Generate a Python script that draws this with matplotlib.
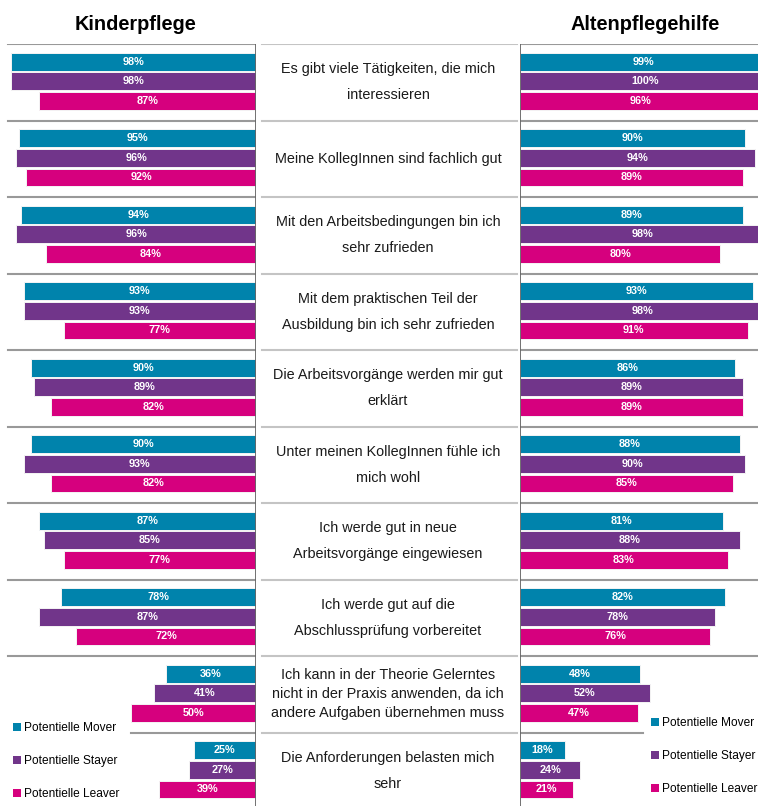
import matplotlib.pyplot as plt
import numpy as np
from matplotlib.patches import Patch

plt.rcParams['font.family'] = ['Liberation Sans', 'DejaVu Sans']

# 데이터
series = ['Potentielle Mover', 'Potentielle Stayer', 'Potentielle Leaver']
colors = ['#0083AC', '#71358A', '#D6007E']

items = [
    ['Es gibt viele Tätigkeiten, die mich', 'interessieren'],
    ['Meine KollegInnen sind fachlich gut'],
    ['Mit den Arbeitsbedingungen bin ich', 'sehr zufrieden'],
    ['Mit dem praktischen Teil der', 'Ausbildung bin ich sehr zufrieden'],
    ['Die Arbeitsvorgänge werden mir gut', 'erklärt'],
    ['Unter meinen KollegInnen fühle ich', 'mich wohl'],
    ['Ich werde gut in neue', 'Arbeitsvorgänge eingewiesen'],
    ['Ich werde gut auf die', 'Abschlussprüfung vorbereitet'],
    ['Ich kann in der Theorie Gelerntes', 'nicht in der Praxis anwenden, da ich',
     'andere Aufgaben übernehmen muss'],
    ['Die Anforderungen belasten mich', 'sehr'],
]

kinder_mover  = [98, 95, 94, 93, 90, 90, 87, 78, 36, 25]
kinder_stayer = [98, 96, 96, 93, 89, 93, 85, 87, 41, 27]
kinder_leaver = [87, 92, 84, 77, 82, 82, 77, 72, 50, 39]

alten_mover  = [99, 90, 89, 93, 86, 88, 81, 82, 48, 18]
alten_stayer = [100, 94, 98, 98, 89, 90, 88, 78, 52, 24]
alten_leaver = [96, 89, 80, 91, 89, 85, 83, 76, 47, 21]

# %%
W, H = 758, 806
fig = plt.figure(figsize=(W / 100, H / 100), dpi=100)
fig.set_facecolor('white')

top = 44       # 첫 구분선 위치(px)
grp = 76.5     # 그룹 높이(px)
n = len(items)
ax_h = n * grp
bottom = (H - top - ax_h) / H

axL = fig.add_axes([6 / W, bottom, 250 / W, ax_h / H])
axC = fig.add_axes([256 / W, bottom, 264 / W, ax_h / H])
axR = fig.add_axes([520 / W, bottom, 250 / W, ax_h / H])

for ax in (axL, axC, axR):
    ax.set_ylim(n, 0)
    ax.axis('off')
axL.set_xlim(100, 0)
axR.set_xlim(0, 100)
axC.set_xlim(0, 1)

offsets = [0.235, 0.49, 0.745]
bar_h = 0.235
g = np.arange(n)


def draw_panel(ax, vals):
    for k, v in enumerate(vals):
        bars = ax.barh(g + offsets[k], v, height=bar_h, color=colors[k],
                       edgecolor='#f4f4f4', linewidth=0.7)
        for rect, val in zip(bars, v):
            ax.text(val / 2, rect.get_y() + bar_h / 2, '{}%'.format(val),
                    ha='center', va='center', color='white',
                    fontsize=7.8, fontweight='bold')


draw_panel(axL, [kinder_mover, kinder_stayer, kinder_leaver])
draw_panel(axR, [alten_mover, alten_stayer, alten_leaver])

# 구분선
for i in range(n):
    if i == n - 1:
        axL.axhline(i, xmin=0.5, xmax=1, color='#999999', lw=1.5)
        axR.axhline(i, xmin=0, xmax=0.49, color='#999999', lw=1.5)
    else:
        axL.axhline(i, xmin=0.008, xmax=1, color='#999999', lw=1.5)
        axR.axhline(i, color='#999999', lw=1.5)
    axC.axhline(i, xmin=0.023, xmax=0.99, color='#c4c4c4', lw=1.5)

axL.axvline(0, color='#666666', lw=1.3)
axR.axvline(0, color='#666666', lw=1.3)

# 가운데 문항 텍스트
for i, lines in enumerate(items):
    step = 0.25 if len(lines) > 2 else 0.34
    start = i + 0.5 - step * (len(lines) - 1) / 2
    for j, line in enumerate(lines):
        axC.text(0.5, start + j * step, line, ha='center', va='center',
                 fontsize=10.4, color='#1a1a1a')

# 제목
fig.text(135 / W, 1 - 25 / H, 'Kinderpflege', ha='center', va='center',
         fontsize=14.3, fontweight='bold')
fig.text(645 / W, 1 - 25 / H, 'Altenpflegehilfe', ha='center', va='center',
         fontsize=14.3, fontweight='bold')

# 범례
handles = [Patch(facecolor=c, edgecolor='none') for c in colors]
lg_kw = dict(frameon=False, fontsize=8.6, handlelength=0.7, handleheight=0.7,
             handletextpad=0.25, labelspacing=1.75, borderpad=0, borderaxespad=0)
fig.legend(handles, series, loc='center left',
           bbox_to_anchor=(13 / W, 1 - 761 / H), **lg_kw)
fig.legend(handles, series, loc='center left',
           bbox_to_anchor=(651 / W, 1 - 756 / H), **lg_kw)

plt.savefig('out.png', dpi=100)
